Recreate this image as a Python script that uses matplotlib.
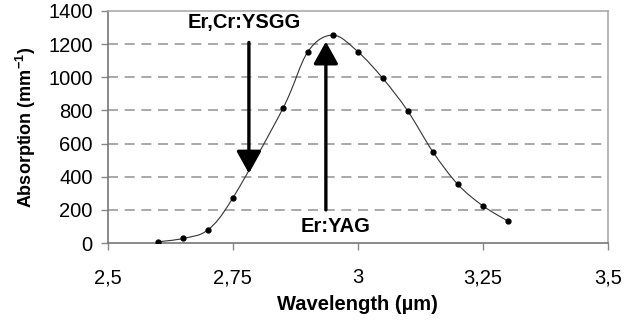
import matplotlib
matplotlib.use("Agg")
import matplotlib.pyplot as plt
import numpy as np
from matplotlib.path import Path
from matplotlib.patches import PathPatch

plt.rcParams['font.family'] = ['Liberation Sans', 'DejaVu Sans']
plt.rcParams['mathtext.fontset'] = 'custom'
plt.rcParams['mathtext.bf'] = 'Liberation Sans:bold'
plt.rcParams['mathtext.rm'] = 'Liberation Sans:bold'
plt.rcParams['mathtext.default'] = 'bf'

# data
wavelength = [2.60, 2.65, 2.70, 2.75, 2.85, 2.90, 2.95, 3.00, 3.05, 3.10, 3.15, 3.20, 3.25, 3.30]
absorption = [8, 28, 80, 273, 812, 1154, 1254, 1154, 993, 796, 551, 354, 225, 133]

x_ticks = [2.5, 2.75, 3.0, 3.25, 3.5]
x_tick_labels = ['2,5', '2,75', '3', '3,25', '3,5']
y_ticks = [0, 200, 400, 600, 800, 1000, 1200, 1400]

lasers = ['Er,Cr:YSGG', 'Er:YAG']
laser_wl = [2.782, 2.936]
arrow_from = [1210, 200]
arrow_to = [420, 1215]


def smooth_path(xs, ys):
    # catmull-rom -> cubic bezier, just for drawing the line like excel does
    pts = np.column_stack([xs, ys]).astype(float)
    verts = [pts[0]]
    codes = [Path.MOVETO]
    n = len(pts)
    for i in range(n - 1):
        p0 = pts[i - 1] if i > 0 else pts[i]
        p1 = pts[i]
        p2 = pts[i + 1]
        p3 = pts[i + 2] if i + 2 < n else pts[i + 1]
        c1 = p1 + (p2 - p0) / 6
        c2 = p2 - (p3 - p1) / 6
        verts += [c1, c2, p2]
        codes += [Path.CURVE4] * 3
    return Path(verts, codes)


fig = plt.figure(figsize=(6.24, 3.22), dpi=100)
ax = fig.add_axes([0.173, 0.245, 0.801, 0.721])

ax.add_patch(PathPatch(smooth_path(wavelength, absorption), fill=False,
                       edgecolor='#333333', lw=0.8, zorder=3))
ax.plot(wavelength, absorption, 'o', color='black', ms=3.5, zorder=4)

for name, wl, y0, y1 in zip(lasers, laser_wl, arrow_from, arrow_to):
    ax.annotate('', xy=(wl, y1), xytext=(wl, y0),
                arrowprops=dict(arrowstyle='-|>,head_width=0.75,head_length=1.35',
                                lw=2.4, color='black', shrinkA=0, shrinkB=0),
                zorder=5)

ax.text(2.772, 1330, lasers[0], fontsize=14.5, fontweight='bold',
        ha='center', va='center')
ax.text(2.955, 98, lasers[1], fontsize=14.5, fontweight='bold',
        ha='center', va='center')

ax.set_xlim(2.5, 3.5)
ax.set_ylim(0, 1400)
ax.set_xticks(x_ticks)
ax.set_xticklabels(x_tick_labels)
ax.set_yticks(y_ticks)
ax.tick_params(labelsize=14.5, length=5, width=1, color='#888888', pad=6)
ax.tick_params(axis='x', pad=13)

for y in y_ticks[1:-1]:
    ax.axhline(y, color='#9a9a9a', lw=1.2, ls=(0, (6, 4)), zorder=1)

ax.spines['left'].set_color('#777777')
ax.spines['bottom'].set_color('#777777')
ax.spines['top'].set_color('#aaaaaa')
ax.spines['right'].set_color('#aaaaaa')
for s in ax.spines.values():
    s.set_linewidth(1.2)

ax.set_xlabel('Wavelength (µm)', fontsize=14.5, fontweight='bold')
ax.xaxis.set_label_coords(0.5, -0.225)
ax.set_ylabel(r'Absorption (mm$^{-1}$)', fontsize=13, fontweight='bold')
ax.yaxis.set_label_coords(-0.14, 0.5)

fig.savefig('out.png', dpi=100)
